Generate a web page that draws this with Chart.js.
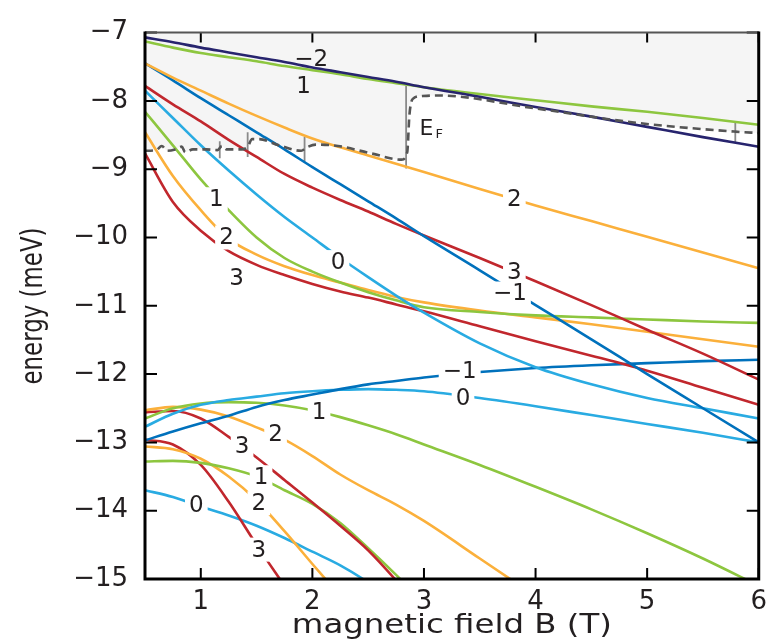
<!DOCTYPE html>
<html>
<head>
<meta charset="utf-8">
<script src="https://cdn.jsdelivr.net/npm/chart.js@4.4.1/dist/chart.umd.min.js"></script>
<style>
  html, body { margin: 0; padding: 0; background: #fff; }
</style>
</head>
<body>
<canvas id="levels" width="775" height="642"></canvas>
<script>
// field values (T) shared by the level curves
const B = [0.5, 0.75, 1, 1.25, 1.5, 1.75, 2, 2.25, 2.5, 2.75, 3, 3.5, 4, 4.5, 5, 5.5, 6];

// upper group of levels (meV)
const navyTop   = [-7.07, -7.14, -7.22, -7.29, -7.36, -7.43, -7.51, -7.58, -7.65, -7.72, -7.80, -7.94, -8.09, -8.23, -8.38, -8.53, -8.67];
const greenTop  = [-7.13, -7.22, -7.30, -7.36, -7.42, -7.49, -7.55, -7.61, -7.68, -7.74, -7.80, -7.90, -7.99, -8.08, -8.16, -8.25, -8.35];
const orangeTop = [-7.45, -7.66, -7.85, -8.04, -8.22, -8.39, -8.55, -8.68, -8.80, -8.92, -9.04, -9.29, -9.53, -9.76, -9.99, -10.22, -10.45];
const blueTop   = [-7.45, -7.70, -7.96, -8.21, -8.46, -8.71, -8.97, -9.22, -9.47, -9.72, -9.98, -10.48, -10.99, -11.49, -12.00, -12.50, -13.00];
const redTop    = [-7.78, -8.05, -8.30, -8.57, -8.82, -9.07, -9.27, -9.45, -9.62, -9.80, -9.97, -10.30, -10.64, -10.99, -11.35, -11.70, -12.08];
const cyanTop   = [-7.85, -8.25, -8.65, -9.02, -9.37, -9.70, -10.00, -10.30, -10.58, -10.85, -11.10, -11.55, -11.90, -12.15, -12.35, -12.50, -12.65];
const greenMid  = [-8.16, -8.65, -9.15, -9.60, -10.00, -10.30, -10.50, -10.66, -10.80, -10.92, -11.02, -11.09, -11.14, -11.17, -11.20, -11.23, -11.25];
const orangeMid = [-8.46, -9.10, -9.60, -10.02, -10.25, -10.42, -10.55, -10.66, -10.77, -10.87, -10.95, -11.07, -11.17, -11.27, -11.38, -11.49, -11.60];
const redMid    = [-8.77, -9.48, -9.90, -10.20, -10.40, -10.55, -10.68, -10.79, -10.88, -10.98, -11.08, -11.30, -11.52, -11.73, -11.95, -12.20, -12.45];

// lower group of levels (meV)
const blueLow    = [-12.97, -12.84, -12.72, -12.61, -12.48, -12.38, -12.30, -12.22, -12.15, -12.10, -12.05, -11.97, -11.91, -11.87, -11.84, -11.81, -11.79];
const cyanLow    = [-12.77, -12.58, -12.45, -12.38, -12.33, -12.28, -12.25, -12.23, -12.22, -12.23, -12.25, -12.35, -12.47, -12.60, -12.73, -12.86, -13.00];
const greenLow   = [-12.65, -12.50, -12.43, -12.41, -12.42, -12.46, -12.53, -12.63, -12.75, -12.88, -13.03, -13.33, -13.65, -13.98, -14.33, -14.70, -15.10];
const orangeLow  = [-12.53, -12.48, -12.52, -12.62, -12.78, -12.96, -13.20, -13.47, -13.70, -13.91, -14.15, -14.70, -15.25, null, null, null, null];
const redLow     = [-12.56, -12.54, -12.65, -12.92, -13.22, -13.55, -13.88, -14.22, -14.58, -15.02, -15.50, null, null, null, null, null, null];
const greenDeep  = [-13.28, -13.27, -13.30, -13.38, -13.50, -13.70, -13.90, -14.18, -14.55, -14.94, -15.35, null, null, null, null, null, null];
const orangeDeep = [-13.06, -13.10, -13.24, -13.50, -13.85, -14.30, -14.78, -15.25, null, null, null, null, null, null, null, null, null];
const redDeep    = [-12.96, -13.03, -13.33, -13.87, -14.50, -15.10, -15.70, null, null, null, null, null, null, null, null, null, null];
const cyanDeep   = [-13.70, -13.80, -13.94, -14.07, -14.22, -14.40, -14.60, -14.80, -15.05, -15.35, null, null, null, null, null, null, null];

// Fermi energy (dashed)
const efB = [0.5, 0.6, 0.65, 0.7, 0.77, 0.83, 0.86, 0.93, 1.05, 1.15, 1.19, 1.23, 1.37, 1.42, 1.46, 1.52, 1.7, 1.9, 1.95, 2.03, 2.23, 2.53, 2.8, 2.85, 2.87, 2.9, 2.98, 3.12, 4.0, 4.9, 5.79, 6];
const efE = [-8.73, -8.72, -8.66, -8.73, -8.71, -8.67, -8.75, -8.71, -8.71, -8.72, -8.66, -8.71, -8.71, -8.67, -8.56, -8.56, -8.65, -8.73, -8.68, -8.64, -8.66, -8.77, -8.86, -8.75, -8.2, -7.97, -7.93, -7.92, -8.11, -8.32, -8.45, -8.47];

// thin vertical jumps
const jumpB = [1.17, 1.42, 1.93, 2.84, 5.79];
const jumpTop = [-8.59, -8.46, -8.53, -7.78, -8.32];
const jumpBottom = [-8.84, -8.82, -8.89, -8.99, -8.6];

const xTicks = [1, 2, 3, 4, 5, 6];
const yTicks = [-15, -14, -13, -12, -11, -10, -9, -8, -7];

// level labels: text, field, energy, cut the line?
const levelLabels = [
  ["\u22122", 1.99, -7.38, false], ["1", 1.92, -7.78, false],
  ["2", 3.81, -9.44, true], ["3", 3.81, -10.5, true], ["\u22121", 3.77, -10.82, true],
  ["1", 1.14, -9.44, true], ["2", 1.23, -10.0, true], ["3", 1.32, -10.59, true], ["0", 2.23, -10.36, true],
  ["\u22121", 3.32, -11.96, true], ["0", 3.35, -12.35, true], ["1", 2.06, -12.56, true],
  ["2", 1.67, -12.88, true], ["3", 1.37, -13.06, true], ["1", 1.54, -13.51, true],
  ["2", 1.52, -13.89, true], ["0", 0.96, -13.92, true], ["3", 1.52, -14.57, true]
];

const NAVY = "#27246e", GREEN = "#8dc63f", ORANGE = "#fbb03b", RED = "#c1272d", CYAN = "#29abe2", BLUE = "#0071bc";

const pts = (xs, ys) => xs.map((b, i) => ({ x: b, y: ys[i] }));
const level = (ys, color) => ({ data: pts(B, ys), borderColor: color, borderWidth: 2.6, order: 1 });

const datasets = [
  {
    data: pts(efB, efE), borderColor: "#555", borderWidth: 2.6, borderDash: [8, 5],
    fill: "end", backgroundColor: "#f5f5f5", order: 0
  },
  level(navyTop, NAVY), level(greenTop, GREEN), level(orangeTop, ORANGE), level(blueTop, BLUE),
  level(redTop, RED), level(cyanTop, CYAN), level(greenMid, GREEN), level(orangeMid, ORANGE), level(redMid, RED),
  level(blueLow, BLUE), level(cyanLow, CYAN), level(greenLow, GREEN), level(orangeLow, ORANGE), level(redLow, RED),
  level(greenDeep, GREEN), level(orangeDeep, ORANGE), level(redDeep, RED), level(cyanDeep, CYAN)
];
jumpB.forEach((b, i) => {
  datasets.push({
    data: [{ x: b, y: jumpTop[i] }, { x: b, y: jumpBottom[i] }],
    borderColor: "#8a8a8a", borderWidth: 1.8, tension: 0, cubicInterpolationMode: "default", order: 2
  });
});

const minus = (v) => String(v).replace("-", "\u2212");

// labels, frame, inner ticks and axis titles
const decorations = {
  id: "decorations",
  afterDatasetsDraw(chart) {
    const { ctx, scales: { x, y } } = chart;
    ctx.save();
    ctx.font = "23px 'DejaVu Sans'";
    ctx.textAlign = "center";
    ctx.textBaseline = "middle";
    levelLabels.forEach(([t, b, e, cut]) => {
      const px = x.getPixelForValue(b), py = y.getPixelForValue(e);
      const w = ctx.measureText(t).width;
      if (cut) {
        ctx.fillStyle = "#fff";
        ctx.fillRect(px - w / 2 - 4, py - 12, w + 8, 24);
      }
      ctx.fillStyle = "#231f20";
      ctx.fillText(t, px, py + 1);
    });
    // E_F
    const ex = x.getPixelForValue(3.04), ey = y.getPixelForValue(-8.42);
    ctx.textAlign = "left";
    ctx.font = "22px 'DejaVu Sans'";
    ctx.fillText("E", ex - 9, ey);
    ctx.font = "13px 'DejaVu Sans'";
    ctx.fillText("F", ex + 7, ey + 5);
    ctx.restore();
  },
  afterDraw(chart) {
    const { ctx, chartArea: a, scales: { x, y } } = chart;
    ctx.save();
    ctx.strokeStyle = "#000";
    ctx.lineWidth = 2;
    ctx.beginPath();
    xTicks.forEach(v => {
      const px = x.getPixelForValue(v);
      ctx.moveTo(px, a.top); ctx.lineTo(px, a.top + 10);
      ctx.moveTo(px, a.bottom); ctx.lineTo(px, a.bottom - 11);
    });
    yTicks.forEach(v => {
      const py = y.getPixelForValue(v);
      ctx.moveTo(a.left, py); ctx.lineTo(a.left + 12, py);
      ctx.moveTo(a.right, py); ctx.lineTo(a.right - 12, py);
    });
    ctx.stroke();
    ctx.strokeStyle = "#555";
    ctx.lineWidth = 2;
    ctx.beginPath();
    ctx.moveTo(a.left, a.top); ctx.lineTo(a.right, a.top);
    ctx.stroke();
    ctx.strokeStyle = "#000";
    ctx.lineWidth = 3;
    ctx.beginPath();
    ctx.moveTo(a.left, a.top - 1); ctx.lineTo(a.left, a.bottom);
    ctx.lineTo(a.right, a.bottom); ctx.lineTo(a.right, a.top - 1);
    ctx.stroke();

    // axis titles, stretched to the reference widths
    ctx.fillStyle = "#231f20";
    ctx.textAlign = "center";
    ctx.textBaseline = "alphabetic";
    ctx.font = "27px 'DejaVu Sans'";
    let t = "magnetic field B (T)";
    let s = 320 / ctx.measureText(t).width;
    ctx.save();
    ctx.translate((a.left + a.right) / 2, 633);
    ctx.scale(s, 1);
    ctx.fillText(t, 0, 0);
    ctx.restore();
    ctx.font = "31px 'DejaVu Sans'";
    t = "energy (meV)";
    s = 157 / ctx.measureText(t).width;
    ctx.save();
    ctx.translate(42, 306);
    ctx.rotate(-Math.PI / 2);
    ctx.scale(s, 1);
    ctx.fillText(t, 0, 0);
    ctx.restore();
    ctx.restore();
  }
};

const tickFont = { family: "DejaVu Sans", size: 26 };

new Chart(document.getElementById("levels"), {
  type: "line",
  data: { datasets: datasets },
  options: {
    responsive: false,
    animation: false,
    layout: { padding: { top: 15, right: 12, left: 0, bottom: 0 } },
    elements: {
      point: { radius: 0 },
      line: { cubicInterpolationMode: "monotone", fill: false }
    },
    plugins: {
      legend: { display: false },
      tooltip: { enabled: false },
      filler: { drawTime: "beforeDatasetsDraw" }
    },
    scales: {
      x: {
        type: "linear", min: 0.5, max: 6,
        afterBuildTicks: (s) => { s.ticks = xTicks.map(v => ({ value: v })); },
        afterFit: (s) => { s.height = 63; },
        grid: { display: false, drawTicks: false },
        border: { display: false },
        ticks: { font: tickFont, color: "#231f20", padding: 8, maxRotation: 0, autoSkip: false, callback: (v) => minus(v) }
      },
      y: {
        type: "linear", min: -15, max: -7,
        afterBuildTicks: (s) => { s.ticks = yTicks.map(v => ({ value: v })); },
        afterFit: (s) => { s.width = 145; },
        grid: { display: false, drawTicks: false },
        border: { display: false },
        ticks: { font: tickFont, color: "#231f20", padding: 17, autoSkip: false, callback: (v) => minus(v) }
      }
    }
  },
  plugins: [decorations]
});
</script>
</body>
</html>
